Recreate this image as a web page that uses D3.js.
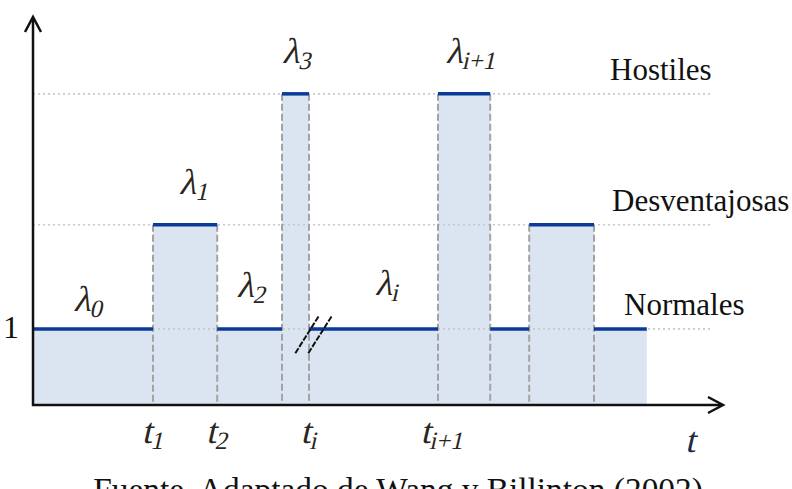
<html>
<head>
<script src="https://d3js.org/d3.v7.min.js"></script>
<style>
    body { margin: 0; background: #fff; }
    svg { display: block; }
    .fill { fill: #dbe5f1; }
    .grid { stroke: #c9c9c9; stroke-width: 1.6px; stroke-dasharray: 2, 3; fill: none; }
    .vline { stroke: #a3a3a3; stroke-width: 2px; stroke-dasharray: 7, 3; fill: none; }
    .level { stroke: #0a3a9a; stroke-width: 3.5px; fill: none; }
    .axis { stroke: #111; stroke-width: 2.5px; fill: none; }
    .arrow { stroke: #111; stroke-width: 2.5px; fill: none; stroke-linejoin: miter; }
    .brk { stroke: #111; stroke-width: 2px; stroke-dasharray: 6, 1.5; }
</style>
</head>
<body>
<svg id='the-chart' width=792 height=489></svg>
<script>

    // segment boundaries (time units) and the rate level of each segment
    var bounds = [0, 2.0, 3.07, 4.15, 4.6, 6.75, 7.62, 8.27, 9.35, 10.23];
    var levels = [1, 2.37, 1, 4.09, 1, 4.09, 1, 2.37, 1];

    // weather states and their level
    var stateNames = ['Hostiles', 'Desventajosas', 'Normales'];
    var stateLevels = [4.09, 2.37, 1];

    // lambda labels: subscript, time position, height
    var lamSubs = ['0', '1', '2', '3', 'i', 'i+1'];
    var lamX = [0.92, 2.68, 3.64, 4.4, 5.9, 7.3];
    var lamY = [1.24, 2.78, 1.42, 4.49, 1.44, 4.49];

    // t tick labels
    var tickSubs = ['1', '2', 'i', 'i+1'];
    var tickX = [2.0, 3.07, 4.6, 6.82];

    var serif = '"Liberation Serif", "Times New Roman", serif';

    var svg = d3.select('#the-chart');

    var x = d3.scaleLinear().domain([0, 11.5]).range([33, 723]);
    var y = d3.scaleLinear().domain([0, 5.1]).range([405, 17]);

    var segs = levels.map(function(l, i) {
        return { x0: bounds[i], x1: bounds[i + 1], level: l };
    });

    // filled area under the step curve
    var stepPts = segs.map(function(s) { return [s.x0, s.level]; });
    stepPts.push([bounds[bounds.length - 1], levels[levels.length - 1]]);
    var area = d3.area()
        .curve(d3.curveStepAfter)
        .x(function(d) { return x(d[0]); })
        .y0(y(0))
        .y1(function(d) { return y(d[1]); });
    svg.append('path').attr('class', 'fill').attr('d', area(stepPts));

    // dotted level guides
    svg.selectAll('.grid').data(stateLevels).enter().append('line')
        .attr('class', 'grid')
        .attr('x1', x(0)).attr('x2', x(11.33))
        .attr('y1', function(d) { return y(d); })
        .attr('y2', function(d) { return y(d); });

    // dashed verticals at interior boundaries
    var inner = d3.range(1, bounds.length - 1);
    svg.selectAll('.vline').data(inner).enter().append('line')
        .attr('class', 'vline')
        .attr('x1', function(i) { return x(bounds[i]); })
        .attr('x2', function(i) { return x(bounds[i]); })
        .attr('y1', function(i) { return y(Math.max(levels[i - 1], levels[i])); })
        .attr('y2', y(0));

    // level segments
    svg.selectAll('.level').data(segs).enter().append('line')
        .attr('class', 'level')
        .attr('x1', function(d) { return x(d.x0); })
        .attr('x2', function(d) { return x(d.x1); })
        .attr('y1', function(d) { return y(d.level); })
        .attr('y2', function(d) { return y(d.level); });

    // axes with arrowheads
    svg.append('line').attr('class', 'axis')
        .attr('x1', x(0)).attr('x2', x(0)).attr('y1', y(0) + 1).attr('y2', y(5.08));
    svg.append('line').attr('class', 'axis')
        .attr('x1', x(0) - 1).attr('x2', x(11.48)).attr('y1', y(0)).attr('y2', y(0));
    svg.append('path').attr('class', 'arrow')
        .attr('d', 'M' + (x(0) - 8) + ',' + (y(5.1) + 15) + 'L' + x(0) + ',' + y(5.1) + 'L' + (x(0) + 8) + ',' + (y(5.1) + 15));
    svg.append('path').attr('class', 'arrow')
        .attr('d', 'M' + (x(11.5) - 15) + ',' + (y(0) - 8) + 'L' + x(11.5) + ',' + y(0) + 'L' + (x(11.5) - 15) + ',' + (y(0) + 8));

    // break mark
    var bx = x(4.68), by = y(0.93);
    [-6.5, 6.5].forEach(function(off) {
        svg.append('line').attr('class', 'brk')
            .attr('x1', bx + off - 12).attr('y1', by + 19)
            .attr('x2', bx + off + 12).attr('y2', by - 19);
    });

    // state names
    var stateX = [610, 612, 624];
    svg.selectAll('.state').data(stateNames).enter().append('text')
        .attr('class', 'state')
        .attr('x', function(d, i) { return stateX[i]; })
        .attr('y', function(d, i) { return y(stateLevels[i]) - 14; })
        .style('font-family', serif).style('font-size', '31px').style('fill', '#111')
        .text(function(d) { return d; });

    // "1" tick
    svg.append('text')
        .attr('x', 3).attr('y', y(1) + 9)
        .style('font-family', serif).style('font-size', '32px').style('fill', '#111')
        .text('1');

    // math-style label: serif glyphs slanted by hand
    function mathLabel(px, py, main, sub, color) {
        var g = svg.append('g')
            .attr('transform', 'translate(' + px + ',' + py + ') skewX(-13)');
        var t = g.append('text')
            .attr('text-anchor', 'middle')
            .style('font-family', serif).style('font-size', '36px').style('fill', color);
        t.append('tspan').text(main);
        if (sub) t.append('tspan').attr('dy', 6).style('font-size', '25px').text(sub);
        return t;
    }

    lamSubs.forEach(function(s, i) {
        mathLabel(x(lamX[i]), y(lamY[i]), '\u03bb', s, '#2b2620');
    });

    tickSubs.forEach(function(s, i) {
        mathLabel(x(tickX[i]), y(0) + 38, 't', s, '#2b2620');
    });

    mathLabel(x(10.95), y(0) + 47, 't', null, '#1d2a44');

    // source caption (cut by the picture edge), stretched to the reference width
    var cap = svg.append('text')
        .attr('x', 398).attr('y', 501).attr('text-anchor', 'middle')
        .style('font-family', serif).style('font-size', '30px').style('fill', '#111')
        .text('Fuente. Adaptado de Wang y Billinton (2002)');
    var w = cap.node().getComputedTextLength();
    cap.style('font-size', (30 * 610 / w) + 'px');

</script>
</body>
</html>
